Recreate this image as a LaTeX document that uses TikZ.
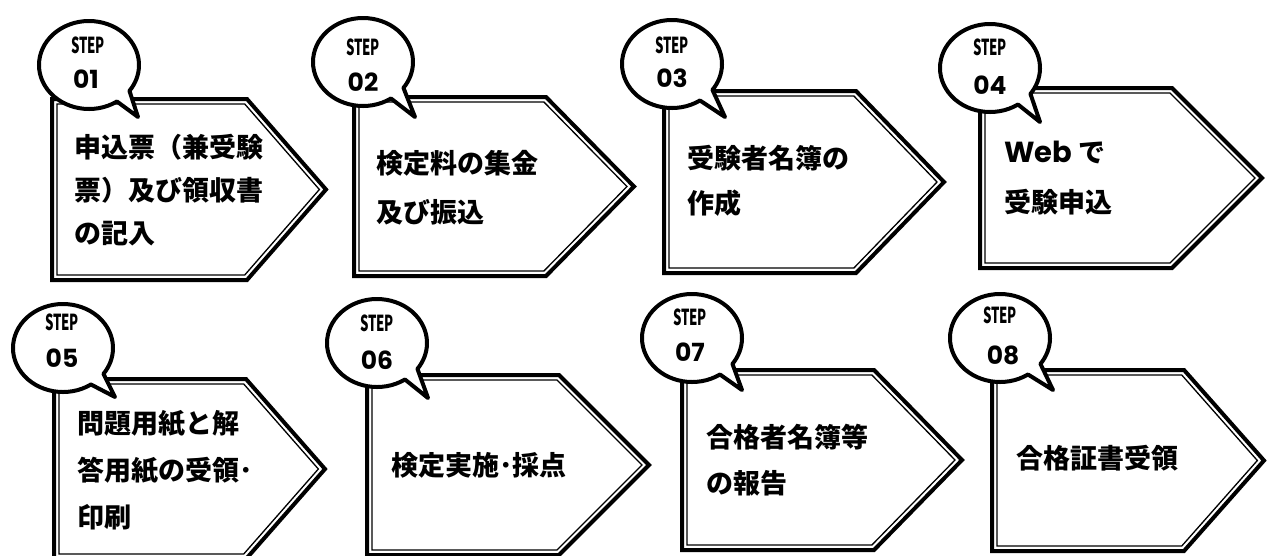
\documentclass[tikz,border=0pt]{standalone}
\usepackage{fontspec}
\usepackage{graphicx}
\usetikzlibrary{calc}
\newfontfamily\jp{Noto Sans CJK JP}
\newfontfamily\pop{Poppins}
\newcommand\steptxt{\scalebox{0.6}[1]{STEP}}
\tikzset{
  outerline/.style={line width=4pt, line join=miter},
  innerline/.style={line width=1.3pt, line join=miter},
  bubbleshape/.style={draw, line width=4pt, fill=white, line join=round},
  jptext/.style={anchor=base west, inner sep=0pt, font=\jp\bfseries\fontsize{27}{27}\selectfont},
  steplabel/.style={inner sep=0pt, font=\jp\bfseries\fontsize{22}{22}\selectfont},
  numlabel/.style={inner sep=0pt, font=\pop\bfseries\fontsize{25}{25}\selectfont}
}
% #1 L, #2 T, #3 B, #4 S (shoulder x), #5 X (tip x)
\newcommand\stepbox[5]{%
  \pgfmathsetmacro\Mid{(#2+#3)/2}%
  \pgfmathsetmacro\hh{(#3-#2)/2}%
  \pgfmathsetmacro\ddx{#5-#4}%
  \pgfmathsetmacro\dd{5}%
  \pgfmathsetmacro\len{sqrt(\ddx*\ddx+\hh*\hh)}%
  \pgfmathsetmacro\Xi{#5-\dd*\len/\hh}%
  \pgfmathsetmacro\Si{\Xi-(\hh-\dd)*\ddx/\hh}%
  \pgfmathsetmacro\Li{#1+\dd}%
  \pgfmathsetmacro\Ti{#2+\dd}%
  \pgfmathsetmacro\Bi{#3-\dd}%
  \draw[outerline, fill=white] (#1,#2) -- (#4,#2) -- (#5,\Mid) -- (#4,#3) -- (#1,#3) -- cycle;
  \draw[innerline] (\Li,\Ti) -- (\Si,\Ti) -- (\Xi,\Mid) -- (\Si,\Bi) -- (\Li,\Bi) -- cycle;
}
% #1 cx, #2 cy, #3 tip x, #4 tip y
\newcommand\stepbubble[4]{%
  \draw[bubbleshape] ($(#1,#2)+(56:50 and 44)$) arc[start angle=56, end angle=396, x radius=50, y radius=44] -- (#3,#4) -- cycle;
}
\begin{document}
\begin{tikzpicture}[x=1pt,y=-1pt]
\useasboundingbox (0,0) rectangle (1268,555);
\clip (0,0) rectangle (1268,555);
\fill[white] (0,0) rectangle (1268,555);
% boxes
\stepbox{52}{99}{280}{247}{326}
\stepbox{354}{97}{276}{546}{634}
\stepbox{664}{91}{273}{856}{944}
\stepbox{980}{88}{268}{1172}{1262}
\stepbox{54}{379}{559}{246}{325}
\stepbox{367}{375}{555}{559}{649}
\stepbox{682}{370}{550}{874}{962}
\stepbox{992}{370}{551}{1184}{1264}
% bubbles
\stepbubble{89}{65}{138}{117}
\stepbubble{363}{62}{415}{117}
\stepbubble{672}{64}{725}{117}
\stepbubble{990}{68}{1040}{122}
\stepbubble{63}{348}{115}{397}
\stepbubble{377}{343}{428}{398}
\stepbubble{692}{338}{742}{390}
\stepbubble{1000}{338}{1053}{390}
% bubble labels
\node[steplabel] (s1) at (88,45) {\steptxt};
\node[numlabel] (n1) at (86,79) {01};
\node[steplabel] (s2) at (363,47) {\steptxt};
\node[numlabel] (n2) at (363,82) {02};
\node[steplabel] (s3) at (672,45) {\steptxt};
\node[numlabel] (n3) at (672,78) {03};
\node[steplabel] (s4) at (990,47) {\steptxt};
\node[numlabel] (n4) at (990,85) {04};
\node[steplabel] (s5) at (62,322) {\steptxt};
\node[numlabel] (n5) at (62,358) {05};
\node[steplabel] (s6) at (377,323) {\steptxt};
\node[numlabel] (n6) at (377,360) {06};
\node[steplabel] (s7) at (690,317) {\steptxt};
\node[numlabel] (n7) at (690,352) {07};
\node[steplabel] (s8) at (1000,315) {\steptxt};
\node[numlabel] (n8) at (1003,355) {08};
% box texts
\node[jptext] (t1a) at (74,157) {申込票（兼受験};
\node[jptext] (t1b) at (74,200) {票）及び領収書};
\node[jptext] (t1c) at (74,243) {の記入};
\node[jptext] (t2a) at (376,173) {検定料の集金};
\node[jptext] (t2b) at (376,222) {及び振込};
\node[jptext] (t3a) at (687,168) {受験者名簿の};
\node[jptext] (t3b) at (687,213) {作成};
\node[jptext] (t4a) at (1004,162) {{\pop\fontsize{29}{29}\selectfont Web} で};
\node[jptext] (t4b) at (1004,212) {受験申込};
\node[jptext] (t5a) at (77,433) {問題用紙と解};
\node[jptext] (t5b) at (77,480) {答用紙の受領･};
\node[jptext] (t5c) at (77,527) {印刷};
\node[jptext] (t6a) at (391,475) {検定実施･採点};
\node[jptext] (t7a) at (706,447) {合格者名簿等};
\node[jptext] (t7b) at (706,493) {の報告};
\node[jptext] (t8a) at (1016,468) {合格証書受領};
\end{tikzpicture}
\end{document}
